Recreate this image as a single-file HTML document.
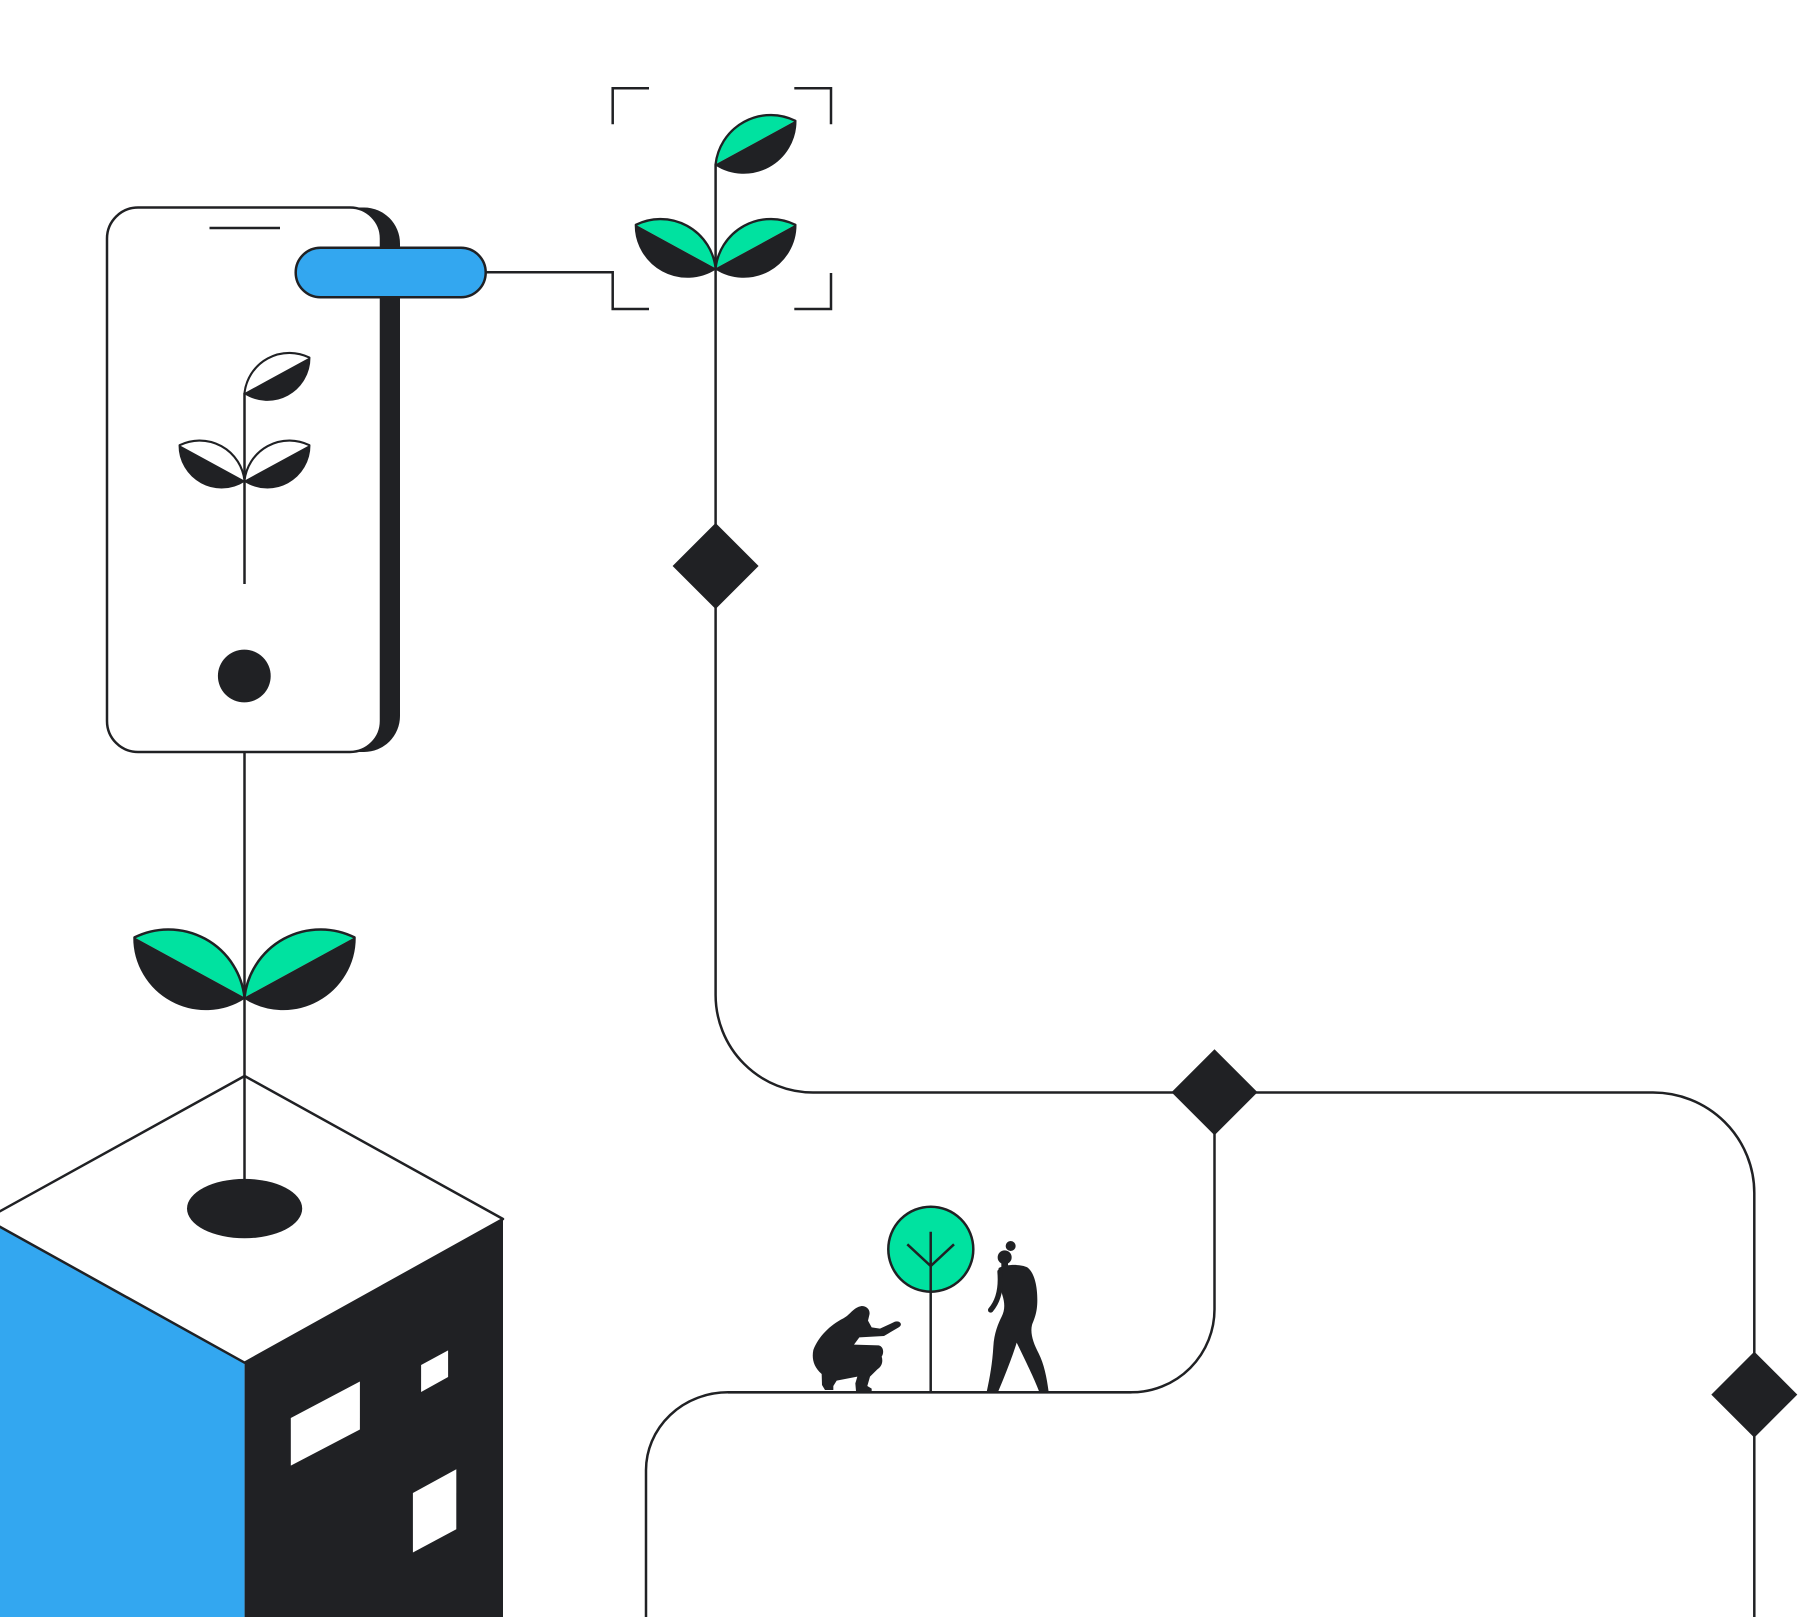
<!DOCTYPE html>
<html>
<head>
<meta charset="utf-8">
<style>
  html, body { margin: 0; padding: 0; background: #ffffff; }
  svg { display: block; }
</style>
</head>
<body>
<svg width="1813" height="1617" viewBox="0 0 1813 1617" xmlns="http://www.w3.org/2000/svg">

  <rect x="0" y="0" width="1813" height="1617" fill="#ffffff"/>

  <!-- ===== Building cube ===== -->
  <polygon points="-14,1219 244.6,1362.7 244.6,1617 -14,1617" fill="#33a7f0"/>
  <polygon points="244.6,1362.7 503,1219 503,1617 244.6,1617" fill="#202124"/>
  <polygon points="244.6,1076 503,1219 244.6,1362.7 -14,1219" fill="#ffffff" stroke="#202124" stroke-width="2.5" stroke-linejoin="round"/>
  <!-- windows -->
  <polygon points="290.8,1418 359.9,1381.5 359.9,1429.5 290.8,1465.6" fill="#ffffff"/>
  <polygon points="421.1,1365 448.1,1350.4 448.1,1377 421.1,1392" fill="#ffffff"/>
  <polygon points="412.9,1493 456.3,1469.3 456.3,1529.2 412.9,1552.5" fill="#ffffff"/>
  <!-- hole -->
  <ellipse cx="244.6" cy="1208.6" rx="57.6" ry="29.7" fill="#202124"/>

  <!-- main stem from phone to hole -->
  <line x1="244.5" y1="752" x2="244.5" y2="1180" stroke="#202124" stroke-width="2.5"/>

  <!-- big plant leaves -->
  <g transform="translate(244.5,997.4)">
    <g>
      <path d="M -110 -60 A 76.5 76.5 0 0 1 0 0 Z" fill="#00e2a0"/>
      <path d="M 0 0 A 71.2 71.2 0 0 1 -110 -60 Z" fill="#202124"/>
      <path d="M -110 -60 A 76.5 76.5 0 0 1 0 0 A 71.2 71.2 0 0 1 -110 -60 Z" fill="none" stroke="#202124" stroke-width="2.5" stroke-linejoin="round"/>
    </g>
    <g transform="scale(-1,1)">
      <path d="M -110 -60 A 76.5 76.5 0 0 1 0 0 Z" fill="#00e2a0"/>
      <path d="M 0 0 A 71.2 71.2 0 0 1 -110 -60 Z" fill="#202124"/>
      <path d="M -110 -60 A 76.5 76.5 0 0 1 0 0 A 71.2 71.2 0 0 1 -110 -60 Z" fill="none" stroke="#202124" stroke-width="2.5" stroke-linejoin="round"/>
    </g>
  </g>

  <!-- ===== Phone ===== -->
  <rect x="107" y="207.5" width="293" height="544.5" rx="36" ry="36" fill="#202124"/>
  <rect x="107" y="207.5" width="274" height="544.5" rx="31" ry="31" fill="#ffffff" stroke="#202124" stroke-width="2.5"/>
  <line x1="209.5" y1="228" x2="280" y2="228" stroke="#202124" stroke-width="2.5"/>
  <circle cx="244.3" cy="676" r="26.4" fill="#202124"/>
  <!-- phone plant -->
  <line x1="244.5" y1="393" x2="244.5" y2="584" stroke="#202124" stroke-width="2.5"/>
  <g transform="translate(244.5,480.6) scale(0.59)">
    <g>
      <path d="M -110 -60 A 76.5 76.5 0 0 1 0 0 Z" fill="#ffffff"/>
      <path d="M 0 0 A 71.2 71.2 0 0 1 -110 -60 Z" fill="#202124"/>
      <path d="M -110 -60 A 76.5 76.5 0 0 1 0 0 A 71.2 71.2 0 0 1 -110 -60 Z" fill="none" stroke="#202124" stroke-width="3.6" stroke-linejoin="round"/>
    </g>
    <g transform="scale(-1,1)">
      <path d="M -110 -60 A 76.5 76.5 0 0 1 0 0 Z" fill="#ffffff"/>
      <path d="M 0 0 A 71.2 71.2 0 0 1 -110 -60 Z" fill="#202124"/>
      <path d="M -110 -60 A 76.5 76.5 0 0 1 0 0 A 71.2 71.2 0 0 1 -110 -60 Z" fill="none" stroke="#202124" stroke-width="3.6" stroke-linejoin="round"/>
    </g>
  </g>
  <g transform="translate(244.5,393) scale(-0.59,0.59)">
    <path d="M -110 -60 A 76.5 76.5 0 0 1 0 0 Z" fill="#ffffff"/>
    <path d="M 0 0 A 71.2 71.2 0 0 1 -110 -60 Z" fill="#202124"/>
    <path d="M -110 -60 A 76.5 76.5 0 0 1 0 0 A 71.2 71.2 0 0 1 -110 -60 Z" fill="none" stroke="#202124" stroke-width="3.6" stroke-linejoin="round"/>
  </g>

  <!-- blue button & connector -->
  <path d="M 485.7 272.3 H 612.7 V 309 H 649" fill="none" stroke="#202124" stroke-width="2.5"/>
  <rect x="295.7" y="247.7" width="190" height="49.6" rx="24.8" ry="24.8" fill="#33a7f0" stroke="#202124" stroke-width="2.5"/>

  <!-- brackets -->
  <path d="M 612.7 124.3 V 88.3 H 649" fill="none" stroke="#202124" stroke-width="2.5"/>
  <path d="M 794.3 88.3 H 831 V 124.3" fill="none" stroke="#202124" stroke-width="2.5"/>
  <path d="M 831 273 V 309 H 794.3" fill="none" stroke="#202124" stroke-width="2.5"/>

  <!-- ===== Green plant + connectors ===== -->
  <path d="M 715.6 164.3 V 995 A 97.5 97.5 0 0 0 813 1092.5 H 1653 A 101.3 100.5 0 0 1 1754.3 1193 V 1617" fill="none" stroke="#202124" stroke-width="2.5"/>
  <path d="M 1214.5 1092.5 V 1309.3 A 83 83 0 0 1 1131.5 1392.3 H 728 A 82 78 0 0 0 646 1470 V 1617" fill="none" stroke="#202124" stroke-width="2.5"/>

  <g transform="translate(715.6,268.3) scale(0.725)">
    <g>
      <path d="M -110 -60 A 76.5 76.5 0 0 1 0 0 Z" fill="#00e2a0"/>
      <path d="M 0 0 A 71.2 71.2 0 0 1 -110 -60 Z" fill="#202124"/>
      <path d="M -110 -60 A 76.5 76.5 0 0 1 0 0 A 71.2 71.2 0 0 1 -110 -60 Z" fill="none" stroke="#202124" stroke-width="3.2" stroke-linejoin="round"/>
    </g>
    <g transform="scale(-1,1)">
      <path d="M -110 -60 A 76.5 76.5 0 0 1 0 0 Z" fill="#00e2a0"/>
      <path d="M 0 0 A 71.2 71.2 0 0 1 -110 -60 Z" fill="#202124"/>
      <path d="M -110 -60 A 76.5 76.5 0 0 1 0 0 A 71.2 71.2 0 0 1 -110 -60 Z" fill="none" stroke="#202124" stroke-width="3.2" stroke-linejoin="round"/>
    </g>
  </g>
  <g transform="translate(715.6,164.3) scale(-0.725,0.725)">
    <path d="M -110 -60 A 76.5 76.5 0 0 1 0 0 Z" fill="#00e2a0"/>
    <path d="M 0 0 A 71.2 71.2 0 0 1 -110 -60 Z" fill="#202124"/>
    <path d="M -110 -60 A 76.5 76.5 0 0 1 0 0 A 71.2 71.2 0 0 1 -110 -60 Z" fill="none" stroke="#202124" stroke-width="3.2" stroke-linejoin="round"/>
  </g>

  <!-- diamonds -->
  <polygon points="715.6,523 758.6,566 715.6,609 672.6,566" fill="#202124"/>
  <polygon points="1214.5,1049.3 1257.5,1092.3 1214.5,1135.3 1171.5,1092.3" fill="#202124"/>
  <polygon points="1754.3,1351.6 1797.3,1394.6 1754.3,1437.6 1711.3,1394.6" fill="#202124"/>

  <!-- ===== Tree ===== -->
  <circle cx="930.8" cy="1249.2" r="42.5" fill="#00e2a0" stroke="#202124" stroke-width="2.5"/>
  <line x1="930.7" y1="1231.7" x2="930.7" y2="1392" stroke="#202124" stroke-width="2.5"/>
  <path d="M 907.3 1244.3 L 930.7 1266 L 954 1244.3" fill="none" stroke="#202124" stroke-width="2.5"/>

  <!-- ===== People ===== -->
  <g transform="translate(800,1230) scale(0.33333)" fill="#202124">
    <!-- crouching person -->
    <path d="M 185 228 C 200 228, 212 240, 208 255 L 204 272 L 215 292 L 240 296 L 285 275 C 300 270, 310 285, 296 292 L 252 318 L 178 322 L 162 344 L 236 346 C 252 350, 252 370, 245 380 C 250 395, 245 410, 232 418 L 210 440 L 202 468 L 215 476 L 215 483 L 168 483 L 166 460 L 172 440 L 110 452 L 100 468 L 100 480 L 75 480 L 66 465 L 65 432 C 40 410, 35 385, 40 360 C 55 320, 90 285, 130 265 C 150 255, 160 232, 185 228 Z"/>
    <!-- standing person -->
    <circle cx="632" cy="48" r="15"/>
    <circle cx="614" cy="82" r="21"/>
    <rect x="604" y="90" width="20" height="25"/>
    <path d="M 596 114 C 620 102, 662 102, 682 112 C 700 125, 712 160, 712 210 C 712 250, 702 268, 696 285 C 690 310, 700 340, 716 370 C 732 402, 740 440, 746 486 L 718 486 C 700 440, 680 400, 650 338 C 640 372, 618 430, 594 486 L 560 486 C 570 440, 577 400, 580 350 C 582 310, 595 280, 605 260 C 615 240, 615 220, 607 195 C 600 170, 594 135, 596 114 Z"/>
    <path d="M 600 125 C 604 170, 598 210, 572 240" fill="none" stroke="#202124" stroke-width="16" stroke-linecap="round"/>
  </g>

  <!-- ground line -->
  <line x1="728" y1="1392.3" x2="1131.5" y2="1392.3" stroke="#202124" stroke-width="2.7"/>
</svg>
</body>
</html>
